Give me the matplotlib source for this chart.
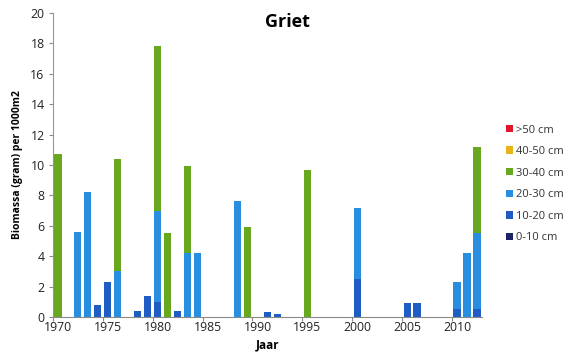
import numpy as np
import matplotlib.pyplot as plt
from matplotlib.patches import Patch

years = list(range(1970, 2013))

# biomass per length class (gram per 1000 m2), one value per year
cls_0_10 = [0.0] * len(years)
cls_10_20 = {1974: 0.8, 1975: 2.3, 1978: 0.4, 1979: 1.4, 1980: 1.0, 1982: 0.4,
             1991: 0.3, 1992: 0.2, 2000: 2.5, 2005: 0.9, 2006: 0.9,
             2010: 0.5, 2012: 0.5}
cls_20_30 = {1972: 5.6, 1973: 8.2, 1976: 3.0, 1980: 6.0, 1983: 4.2, 1984: 4.2,
             1988: 7.6, 2000: 4.7, 2010: 1.8, 2011: 4.2, 2012: 5.0}
cls_30_40 = {1970: 10.7, 1976: 7.4, 1980: 10.8, 1981: 5.5, 1983: 5.7,
             1989: 5.9, 1995: 9.7, 2012: 5.7}
cls_40_50 = {1980: 0.05}
cls_50_plus = {}

labels = ['0-10 cm', '10-20 cm', '20-30 cm', '30-40 cm', '40-50 cm', '>50 cm']
colors = ['#1c2466', '#1f5cc4', '#2a8ee0', '#68a81e', '#e8b416', '#e0162c']


def full(d):
    if isinstance(d, list):
        return np.array(d, dtype=float)
    return np.array([d.get(y, 0.0) for y in years], dtype=float)


series = [full(cls_0_10), full(cls_10_20), full(cls_20_30),
          full(cls_30_40), full(cls_40_50), full(cls_50_plus)]

plt.rcParams['font.family'] = ['Open Sans', 'DejaVu Sans']

fig = plt.figure(figsize=(5.63, 3.61), dpi=100)
ax = fig.add_axes([0.094, 0.122, 0.762, 0.842])

x = np.arange(len(years))
bottom = np.zeros(len(years))
for vals, col in zip(series, colors):
    ax.bar(x, vals, width=0.72, bottom=bottom, color=col, edgecolor='none')
    bottom += vals

ax.set_xlim(-0.5, len(years) - 0.5)
ax.set_ylim(0, 20)
ax.set_yticks(np.arange(0, 21, 2))

label_pos = [i for i, y in enumerate(years) if y % 5 == 0]
ax.set_xticks(label_pos)
ax.set_xticklabels([str(years[i]) for i in label_pos])
ax.tick_params(axis='x', length=0, labelsize=8.8, pad=3, labelcolor='#222222')
ax.set_xticks([i - 0.5 for i in label_pos], minor=True)
ax.tick_params(axis='x', which='minor', length=3, color='#8a8a8a', width=0.8)
ax.tick_params(axis='y', length=3, color='#8a8a8a', width=0.8, labelsize=8.8, pad=3,
               labelcolor='#222222')

for side in ['top', 'right']:
    ax.spines[side].set_visible(False)
ax.spines['left'].set_color('#8a95b8')
ax.spines['left'].set_linewidth(0.8)
ax.spines['bottom'].set_color('#8a8a8a')
ax.spines['bottom'].set_linewidth(0.8)

ax.set_ylabel('Biomassa (gram) per 1000m2', fontsize=7.5, fontweight='bold', labelpad=5)
ax.set_xlabel('Jaar', fontsize=8.5, fontweight='bold', labelpad=3)
fig.text(0.51, 0.94, 'Griet', ha='center', va='center', fontsize=13, fontweight='bold')

handles = [Patch(facecolor=c, edgecolor='none', label=l) for c, l in zip(colors, labels)][::-1]
fig.legend(handles=handles, loc='upper left', bbox_to_anchor=(0.898, 0.655),
           frameon=False, fontsize=8, handlelength=0.65, handleheight=0.65,
           handletextpad=0.25, labelspacing=0.95, borderaxespad=0, borderpad=0,
           labelcolor='#333333')

fig.savefig('out.png', dpi=100)
